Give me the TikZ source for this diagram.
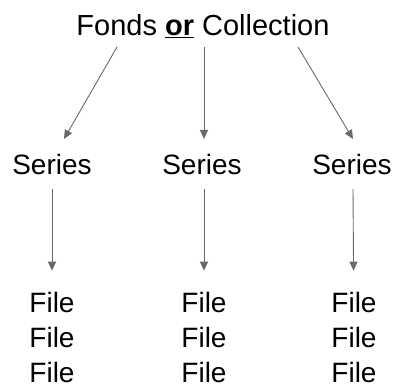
\documentclass[tikz,border=0pt]{standalone}
\usepackage{fontspec}
\setmainfont{Liberation Sans}
\usetikzlibrary{arrows.meta, positioning}
\definecolor{arrowgray}{RGB}{105,105,105}
\tikzstyle{arrow} = [draw=arrowgray, line width=0.9pt, -{Triangle[length=9pt, width=8pt]}]
\tikzstyle{title} = [inner sep=0pt, outer ysep=11pt, text height=20pt, text depth=0pt, font=\fontsize{29}{35}\selectfont]
\tikzstyle{level} = [inner sep=0pt, outer ysep=15pt, text height=20pt, text depth=0pt, font=\fontsize{28}{35}\selectfont]
\tikzstyle{files} = [inner sep=0pt, outer ysep=21pt, align=center, font=\fontsize{28}{35}\selectfont]

\begin{document}
\begin{tikzpicture}[x=1pt, y=1pt, node distance=138pt]
\useasboundingbox (0,0) rectangle (396,-385);

% Top level
\node (fonds) [title] at (203,-26) {Fonds \underline{\textbf{or}} Collection};

% Series
\node (series1) [level, below of=fonds, xshift=-151pt] {Series};
\node (series2) [level, below of=fonds, xshift=-1pt] {Series};
\node (series3) [level, below of=fonds, xshift=149pt] {Series};

% Files
\node (files1) [files, below of=series1, yshift=-35pt] {File\\File\\File};
\node (files2) [files, below of=series2, yshift=-35pt, xshift=2pt] {File\\File\\File};
\node (files3) [files, below of=series3, yshift=-35pt, xshift=2pt] {File\\File\\File};

% Fonds to series
\draw [arrow] ([xshift=-86pt]fonds.south) -- ([xshift=12pt]series1.north);
\draw [arrow] ([xshift=1pt]fonds.south) -- ([xshift=2pt]series2.north);
\draw [arrow] ([xshift=95pt]fonds.south) -- ([xshift=1pt]series3.north);

% Series to files
\draw [arrow] (series1) -- (files1);
\draw [arrow] ([xshift=2pt]series2.south) -- (files2);
\draw [arrow] ([xshift=1pt]series3.south) -- (files3);

\end{tikzpicture}
\end{document}
